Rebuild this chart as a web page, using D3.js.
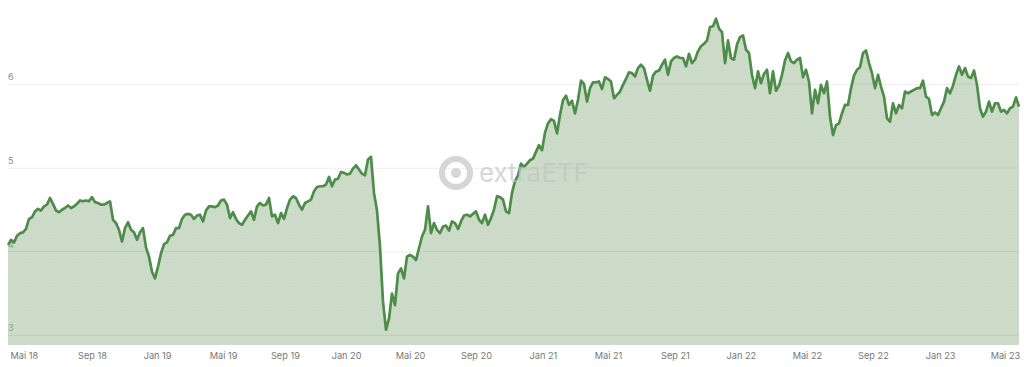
<!DOCTYPE html>
<html>
<head>
<meta charset="utf-8">
<script src="https://cdn.jsdelivr.net/npm/d3@7"></script>
<style>
  html, body { margin: 0; padding: 0; background: #fff; }
  text { font-family: "Inter", "Open Sans", sans-serif; }
</style>
</head>
<body>
<div id="chart"></div>
<script>
// one reading every three pixels, left to right
const values = [
  4.08,4.14,4.11,4.19,4.22,4.23,4.27,4.39,4.41,4.48,
  4.51,4.49,4.54,4.56,4.64,4.57,4.49,4.47,4.50,4.52,
  4.55,4.52,4.54,4.57,4.61,4.60,4.61,4.60,4.65,4.59,
  4.58,4.56,4.56,4.58,4.60,4.38,4.34,4.26,4.12,4.28,
  4.35,4.26,4.23,4.14,4.23,4.28,4.05,3.94,3.76,3.68,
  3.82,3.98,4.09,4.11,4.19,4.20,4.28,4.28,4.39,4.44,
  4.45,4.44,4.39,4.43,4.44,4.36,4.49,4.54,4.54,4.53,
  4.55,4.61,4.62,4.56,4.40,4.47,4.39,4.34,4.32,4.38,
  4.43,4.48,4.38,4.54,4.58,4.55,4.56,4.64,4.42,4.44,
  4.34,4.46,4.39,4.52,4.62,4.66,4.64,4.56,4.50,4.58,
  4.60,4.62,4.72,4.77,4.78,4.78,4.80,4.89,4.78,4.86,
  4.87,4.95,4.94,4.92,4.93,4.99,5.03,4.98,4.93,4.91,
  5.10,5.13,4.70,4.49,4.06,3.40,3.07,3.20,3.50,3.36,
  3.74,3.80,3.68,3.94,3.96,3.94,3.90,4.04,4.18,4.26,
  4.54,4.22,4.34,4.26,4.22,4.30,4.31,4.25,4.36,4.34,
  4.27,4.36,4.43,4.44,4.42,4.45,4.48,4.38,4.34,4.44,
  4.32,4.40,4.50,4.66,4.65,4.62,4.48,4.46,4.70,4.84,
  4.91,5.05,5.01,5.05,5.09,5.11,5.19,5.27,5.21,5.42,
  5.53,5.58,5.56,5.41,5.63,5.81,5.86,5.75,5.80,5.65,
  5.81,6.04,6.00,5.79,5.95,6.02,6.02,6.03,5.94,6.08,
  6.06,6.03,5.83,5.87,5.91,5.99,6.06,6.14,6.13,6.09,
  6.19,6.23,6.19,6.05,5.92,6.10,6.15,6.16,6.23,6.29,
  6.11,6.27,6.31,6.33,6.31,6.31,6.21,6.36,6.25,6.29,
  6.39,6.45,6.48,6.52,6.68,6.69,6.78,6.66,6.62,6.25,
  6.52,6.31,6.29,6.47,6.56,6.58,6.41,6.37,6.11,5.95,
  6.15,6.01,6.12,6.17,5.89,6.15,5.92,5.98,6.11,6.28,
  6.37,6.27,6.25,6.29,6.31,6.08,6.17,6.03,5.65,5.93,
  5.77,5.99,5.89,6.03,5.61,5.39,5.51,5.53,5.65,5.75,
  5.75,5.95,6.10,6.17,6.20,6.37,6.40,6.25,6.13,5.95,
  6.11,5.97,5.85,5.59,5.55,5.77,5.65,5.75,5.71,5.91,
  5.89,5.91,5.93,5.95,5.95,6.04,5.85,5.82,5.63,5.66,
  5.63,5.71,5.79,5.95,5.89,5.98,6.11,6.21,6.11,6.19,
  6.09,6.07,6.16,5.99,5.71,5.61,5.67,5.79,5.67,5.77,
  5.77,5.67,5.69,5.65,5.71,5.73,5.84,5.73
];

const yTicks = [3, 4, 5, 6];
const monthLabels = ["Mai 18","Sep 18","Jan 19","Mai 19","Sep 19","Jan 20","Mai 20","Sep 20",
                     "Jan 21","Mai 21","Sep 21","Jan 22","Mai 22","Sep 22","Jan 23","Mai 23"];
// where each month starts, counted in readings (the source axis is by trading day, not even)
const monthSamples = [5.3,28,49.7,71.7,92.3,112.7,134,156,178.3,200,222.3,244.3,266.3,288.3,310.7,332.3];

const width = 1024, height = 367;
const margin = {top: 0, right: 5, bottom: 22, left: 8};
const innerRight = width - margin.right;
const innerBottom = height - margin.bottom;

const x = d3.scaleLinear().domain([0, values.length - 1]).range([margin.left, innerRight]);
const y = d3.scaleLinear().domain([3, 6]).range([335.4, 84]);

const svg = d3.select("#chart").append("svg")
    .attr("width", width)
    .attr("height", height)
    .style("display", "block");

// dotted texture of the area
const defs = svg.append("defs");
const pattern = defs.append("pattern")
    .attr("id", "dots")
    .attr("width", 3)
    .attr("height", 3)
    .attr("patternUnits", "userSpaceOnUse");
pattern.append("rect").attr("width", 3).attr("height", 3).attr("fill", "#cddcc9");
pattern.append("circle").attr("cx", 1).attr("cy", 1).attr("r", 0.5).attr("fill", "#c4d6c0");

const area = d3.area()
    .x((d, i) => x(i))
    .y0(innerBottom)
    .y1(d => y(d));
const line = d3.line()
    .x((d, i) => x(i))
    .y(d => y(d));

defs.append("clipPath").attr("id", "areaClip")
    .append("path").datum(values).attr("d", area);

// grid sits under the area
const yAxis = svg.append("g")
    .attr("transform", `translate(${margin.left},0)`)
    .call(d3.axisRight(y).tickValues(yTicks).tickSize(innerRight - margin.left).tickFormat(""));
yAxis.select(".domain").remove();
yAxis.selectAll("line").attr("stroke", "#eeeeee");

svg.append("path")
    .datum(values)
    .attr("d", area)
    .attr("fill", "url(#dots)");

// gridlines still show faintly through the area
svg.append("g").selectAll("line")
    .data(yTicks)
    .enter()
    .append("line")
    .attr("x1", margin.left)
    .attr("x2", innerRight)
    .attr("y1", d => y(d))
    .attr("y2", d => y(d))
    .attr("stroke", "#bcd0b8")
    .attr("clip-path", "url(#areaClip)");

// y labels go over the area but under the line
svg.append("g").selectAll("text")
    .data(yTicks)
    .enter()
    .append("text")
    .attr("x", margin.left)
    .attr("y", d => y(d) - 4)
    .attr("font-size", 9)
    .attr("fill", d => y(d) > 240 ? "#8f9f8c" : "#8a8a8a")
    .text(d => d);

svg.append("path")
    .datum(values)
    .attr("d", line)
    .attr("fill", "none")
    .attr("stroke", "#4e8c49")
    .attr("stroke-width", 2.7)
    .attr("stroke-linejoin", "round");

const xAxis = svg.append("g")
    .attr("transform", `translate(0,${innerBottom})`)
    .call(d3.axisBottom(x).tickValues(monthSamples).tickSize(0).tickFormat((d, i) => monthLabels[i]));
xAxis.select(".domain").remove();
xAxis.selectAll("text")
    .attr("y", 7)
    .attr("dy", "0.71em")
    .attr("font-size", 9.2)
    .attr("fill", "#777777");

// watermark
const mark = svg.append("g").attr("transform", "translate(456,173)");
mark.append("circle").attr("r", 14).attr("fill", "none").attr("stroke", "#d6d6d6").attr("stroke-width", 6);
mark.append("circle").attr("r", 5).attr("fill", "#d6d6d6");
svg.append("text")
    .attr("x", 479)
    .attr("y", 182)
    .attr("font-size", 26)
    .attr("fill", "#c4c4c4")
    .attr("fill-opacity", 0.7)
    .text("extraETF");
</script>
</body>
</html>
